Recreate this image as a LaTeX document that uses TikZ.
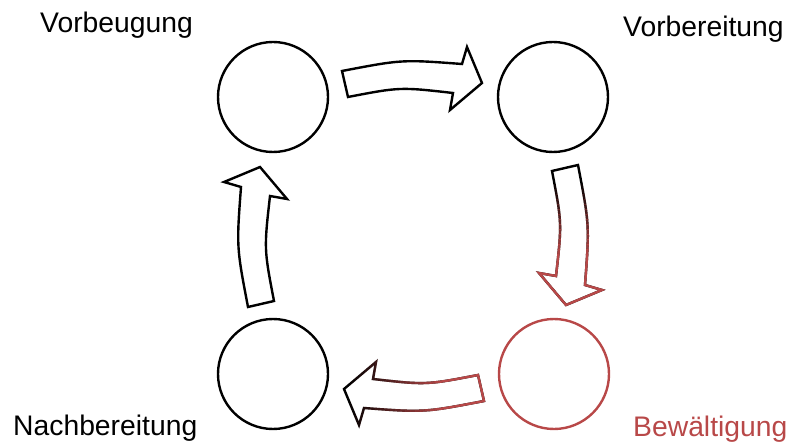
\documentclass[tikz,border=0pt]{standalone}
\usepackage{fontspec}
\setmainfont{Liberation Sans}
\usepackage{tikz}

\definecolor{rot}{RGB}{184,72,72}
\tikzset{
  kreis/.style={circle, draw, line width=2.4pt, minimum size=110pt, inner sep=0pt},
  pfeil/.style={draw, line width=2.4pt, fill=white},
  rand/.style={draw=rot, line width=2.4pt},
  titel/.style={anchor=base west, inner sep=0pt, font=\fontsize{28.3pt}{34pt}\selectfont},
}
\newcommand{\pfeilweg}{(-71,-165) .. controls (-11,-176.5) .. (49,-172) -- (54,-189) -- (69,-153) -- (37,-126) -- (40,-143) .. controls (-13,-149) .. (-65,-139) -- cycle}

\begin{document}
\begin{tikzpicture}[x=1pt, y=-1pt]
    \useasboundingbox (0,0) rectangle (789,443);
    \coordinate (mitte) at (413,236);

    \node[kreis] (vorbeug) at (273,97) {};
    \node[kreis] (vorber) at (553,97) {};
    \node[kreis] (nachber) at (273,374) {};
    \node[kreis, draw=rot] (bewaelt) at (554,374) {};

    \node[titel] (t1) at (40,33) {Vorbeugung};
    \node[titel] (t2) at (623,37) {Vorbereitung};
    \node[titel] (t3) at (13,435) {Nachbereitung};
    \node[titel, text=rot] (t4) at (633,436) {Bewältigung};

    % oben und links
    \path[pfeil, shift={(mitte)}] \pfeilweg;
    \path[pfeil, shift={(mitte)}, rotate=90] \pfeilweg;

    % rechts, von schwarz nach rot
    \path[pfeil, shift={(mitte)}, rotate=-90] \pfeilweg;
    \begin{scope}
      \clip (500,255) rectangle (650,320);
      \path[rand, shift={(mitte)}, rotate=-90] \pfeilweg;
    \end{scope}
    \foreach \i [evaluate=\i as \deck using (\i+1)/15] in {0,...,13} {
      \begin{scope}
        \clip (500,185+5*\i) rectangle (650,190+5*\i);
        \path[rand, draw opacity=\deck, shift={(mitte)}, rotate=-90] \pfeilweg;
      \end{scope}
    }

    % unten, von rot nach schwarz
    \path[pfeil, shift={(mitte)}, rotate=180] \pfeilweg;
    \begin{scope}
      \clip (440,340) rectangle (500,430);
      \path[rand, shift={(mitte)}, rotate=180] \pfeilweg;
    \end{scope}
    \foreach \i [evaluate=\i as \deck using (\i+1)/19] in {0,...,17} {
      \begin{scope}
        \clip (350+5*\i,340) rectangle (355+5*\i,430);
        \path[rand, draw opacity=\deck, shift={(mitte)}, rotate=180] \pfeilweg;
      \end{scope}
    }
\end{tikzpicture}
\end{document}
